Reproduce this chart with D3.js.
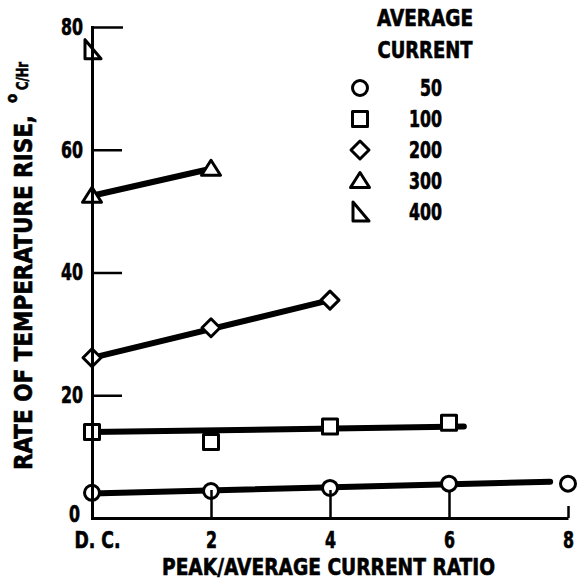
<!DOCTYPE html>
<html>
<head>
<meta charset="utf-8">
<script src="https://cdn.jsdelivr.net/npm/d3@7"></script>
<style>
  html, body { margin: 0; padding: 0; background: #fff; }
  svg text {
    font-family: "Liberation Sans Narrow", "DejaVu Sans Condensed", "Arial Narrow", sans-serif;
    font-weight: bold;
    fill: #000;
    stroke: #000;
    stroke-width: 0.6px;
  }
</style>
</head>
<body>
<div id="chart"></div>
<script>
const WIDTH = 578;
const HEIGHT = 588;

const ratioTicks = [0, 2, 4, 6, 8];
const ratioTickLabels = ["D. C.", "2", "4", "6", "8"];
const riseTicks = [0, 20, 40, 60, 80];

const currents = [50, 100, 200, 300, 400];
const markerShapes = ["circle", "square", "diamond", "triangle", "rightTriangle"];

// Measured points for each average current.
const ratios50 = [0, 2, 4, 6, 8];
const rise50 = [4.1, 4.4, 4.9, 5.6, 5.6];
const ratios100 = [0, 2, 4, 6];
const rise100 = [14.0, 12.4, 14.9, 15.5];
const ratios200 = [0, 2, 4];
const rise200 = [26.1, 31.0, 35.5];
const ratios300 = [0, 2];
const rise300 = [52.5, 56.9];
const ratios400 = [0];
const rise400 = [76.3];

// Hand-drawn trend lines: start/end ratio and start/end rise.
const fitRatios50 = [0, 7.7];
const fitRise50 = [4.0, 5.9];
const fitRatios100 = [0, 6.25];
const fitRise100 = [14.0, 14.9];
const fitRatios200 = [0, 4];
const fitRise200 = [26.1, 35.5];
const fitRatios300 = [0, 2];
const fitRise300 = [52.5, 56.9];

const series = [
    { shape: "circle", xs: ratios50, ys: rise50, fx: fitRatios50, fy: fitRise50 },
    { shape: "square", xs: ratios100, ys: rise100, fx: fitRatios100, fy: fitRise100 },
    { shape: "diamond", xs: ratios200, ys: rise200, fx: fitRatios200, fy: fitRise200 },
    { shape: "triangle", xs: ratios300, ys: rise300, fx: fitRatios300, fy: fitRise300 },
    { shape: "rightTriangle", xs: ratios400, ys: rise400, fx: null, fy: null }
];

// The scan uses a narrow bold face; squeeze labels to its width per character.
const CHAR_W = 11;
const squeeze = (sel, width) => sel
    .attr("textLength", width)
    .attr("lengthAdjust", "spacingAndGlyphs");

// Outline marker paths centred on the point.
const markerPath = shape => {
    switch (shape) {
        case "circle": {
            const r = 7.5;
            return `M${r},0A${r},${r} 0 1,1 ${-r},0A${r},${r} 0 1,1 ${r},0Z`;
        }
        case "square":
            return "M-7.5,-7.5H7.5V7.5H-7.5Z";
        case "diamond":
            return "M0,-9L9,0L0,9L-9,0Z";
        case "triangle":
            return "M0,-8.5L9.5,6.5L-9.5,6.5Z";
        default:
            return "M-7,-10L-7,9L9,9Z";
    }
};

const svg = d3.select("#chart")
    .append("svg")
    .attr("width", WIDTH)
    .attr("height", HEIGHT);

const x = d3.scaleLinear().domain([0, 8]).range([92, 568]);
const y = d3.scaleLinear().domain([0, 80]).range([518, 27]);

// Trend lines under the markers.
const line = d3.line()
    .x(d => x(d[0]))
    .y(d => y(d[1]));

svg.append("g")
    .selectAll("path")
    .data(series.filter(s => s.fx))
    .join("path")
    .attr("d", s => line(d3.zip(s.fx, s.fy)))
    .attr("fill", "none")
    .attr("stroke", "#000")
    .attr("stroke-width", 6)
    .attr("stroke-linecap", "round");

// Markers.
svg.append("g")
    .selectAll("g")
    .data(series)
    .join("g")
    .selectAll("path")
    .data(s => d3.zip(s.xs, s.ys).map(p => ({ p, shape: s.shape })))
    .join("path")
    .attr("transform", d => `translate(${x(d.p[0])},${y(d.p[1])})`)
    .attr("d", d => markerPath(d.shape))
    .attr("fill", "#fff")
    .attr("stroke", "#000")
    .attr("stroke-width", 3)
    .attr("stroke-linejoin", "round");

// Axes on top, ticks pointing inward.
const xAxis = svg.append("g")
    .attr("transform", `translate(0,${y(0)})`)
    .call(d3.axisBottom(x)
        .tickValues(ratioTicks)
        .tickFormat((d, i) => ratioTickLabels[i])
        .tickSizeInner(-28)
        .tickSizeOuter(0)
        .tickPadding(14));

const yAxis = svg.append("g")
    .attr("transform", `translate(${x(0)},0)`)
    .call(d3.axisLeft(y)
        .tickValues(riseTicks)
        .tickSizeInner(-30)
        .tickSizeOuter(0)
        .tickPadding(9));

[xAxis, yAxis].forEach(axis => {
    axis.select(".domain").attr("stroke", "#000").attr("stroke-width", 3);
    axis.selectAll(".tick line").attr("stroke", "#000").attr("stroke-width", 2.5);
    axis.selectAll(".tick text")
        .style("font-size", "23px")
        .style("font-family", null)
        .attr("fill", "#000")
        .each(function () {
            const t = d3.select(this);
            const label = t.text();
            squeeze(t, label === "D. C." ? 46 : label.length * CHAR_W);
        });
});

xAxis.selectAll(".tick line").filter(d => d === 8).attr("y2", -12);
xAxis.selectAll(".tick text").filter(d => d === 0).attr("dx", 5);
yAxis.selectAll(".tick line").filter(d => d === 0).remove();
yAxis.selectAll(".tick text").filter(d => d === 0).attr("y", -4).attr("dx", -3);
yAxis.selectAll(".tick line").filter(d => d === 80).attr("x2", 31);
yAxis.select(".domain").attr("stroke-linecap", "square");

// Axis titles.
squeeze(svg.append("text"), 333)
    .attr("x", 162)
    .attr("y", 575)
    .style("font-size", "23px")
    .text("PEAK/AVERAGE CURRENT RATIO");

const yTitle = svg.append("g");
squeeze(yTitle.append("text"), 355)
    .attr("transform", "translate(32,470) rotate(-90)")
    .style("font-size", "24px")
    .text("RATE OF TEMPERATURE RISE,");
yTitle.append("text")
    .attr("transform", "translate(17,103) rotate(-90)")
    .style("font-size", "15px")
    .text("o");
squeeze(yTitle.append("text"), 28)
    .attr("transform", "translate(28,90) rotate(-90)")
    .style("font-size", "16px")
    .text("C/Hr");

// Legend.
const legend = svg.append("g");
squeeze(legend.append("text"), 96)
    .attr("x", 425).attr("y", 26)
    .attr("text-anchor", "middle")
    .style("font-size", "23px")
    .text("AVERAGE");
squeeze(legend.append("text"), 95)
    .attr("x", 425).attr("y", 58)
    .attr("text-anchor", "middle")
    .style("font-size", "23px")
    .text("CURRENT");

const legendY = d3.scalePoint().domain(currents).range([88, 212]);

const rows = legend.selectAll("g.row")
    .data(currents)
    .join("g")
    .attr("class", "row")
    .attr("transform", d => `translate(0,${legendY(d)})`);

rows.append("path")
    .attr("transform", "translate(360,0)")
    .attr("d", (d, i) => markerPath(markerShapes[i]))
    .attr("fill", "#fff")
    .attr("stroke", "#000")
    .attr("stroke-width", 3)
    .attr("stroke-linejoin", "round");

rows.append("text")
    .attr("x", 442)
    .attr("dy", "0.36em")
    .attr("text-anchor", "end")
    .style("font-size", "23px")
    .each(function (d) {
        squeeze(d3.select(this), String(d).length * CHAR_W);
    })
    .text(d => d);
</script>
</body>
</html>
